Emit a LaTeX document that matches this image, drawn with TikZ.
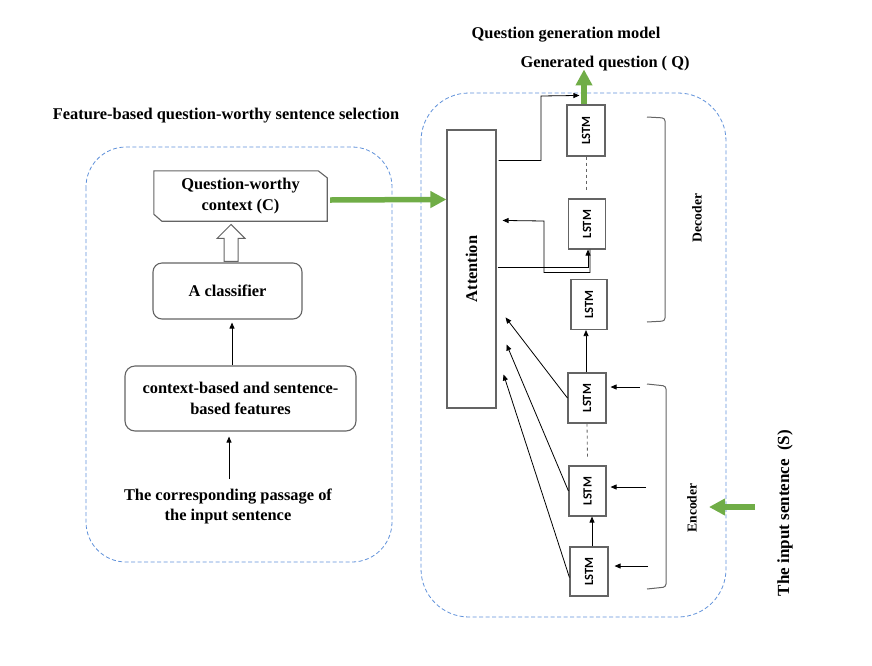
\documentclass[tikz,border=0pt]{standalone}
\usepackage{fontspec}
\setmainfont{Liberation Serif}
\newfontfamily\lstmfont{Carlito}[UprightFont=* Bold, BoldFont=* Bold]
\usetikzlibrary{arrows.meta,calc}
\definecolor{qgreen}{RGB}{112,173,71}
\definecolor{dblue}{RGB}{95,145,218}
\definecolor{bgray}{RGB}{100,100,100}
\newcommand\lstmtxt{\rotatebox{90}{\lstmfont\fontsize{12.5}{12.5}\selectfont LSTM}}
\begin{document}
\begin{tikzpicture}[x=1pt,y=-1pt,
  txt/.style={font=\fontsize{16.4}{21.7}\selectfont\bfseries, align=center, inner sep=0pt},
  lbl/.style={font=\fontsize{13.6}{14}\selectfont\bfseries, inner sep=0pt, rotate=90},
  lstm/.style={draw=bgray, line width=1.1pt, minimum width=37pt, minimum height=50pt, inner sep=0pt},
  rbox/.style={txt, draw=bgray, line width=1.1pt, rounded corners=9pt},
  arr/.style={-{Triangle[length=6pt,width=5pt]}, line width=0.8pt, black},
  garrow/.style={qgreen, line width=5.5pt, -{Triangle[length=16pt,width=16pt]}},
  grp/.style={dblue, line width=0.8pt, dash pattern=on 4pt off 2.5pt},
  brk/.style={bgray, line width=1pt, rounded corners=3pt}]
\useasboundingbox (0,0) rectangle (872,665);

% group frames
\draw[grp, rounded corners=40pt] (86,147) rectangle (392,562);
\draw[grp, rounded corners=48pt] (421,93) rectangle (726,617);

% titles
\node[txt] (title) at (566,35) {Question generation model};
\node[txt] (genq) at (605,64) {Generated question ( Q)};
\node[txt] (fbt) at (226,116) {Feature-based question-worthy sentence selection};

% left pipeline
\node[txt, minimum width=173pt, minimum height=50pt] (qwc) at (240.5,196) {Question-worthy\\context (C)};
\draw[bgray, line width=1.1pt] (qwc.north west) -- ($(qwc.north east)+(-9,0)$) -- ($(qwc.north east)+(0,7)$)
  -- (qwc.south east) -- ($(qwc.south west)+(8,0)$) -- ($(qwc.south west)+(0,-7)$) -- cycle;
\node[rbox, minimum width=149pt, minimum height=56pt] (cls) at (227.5,291) {A classifier};
\node[rbox, rounded corners=10pt, minimum width=231pt, minimum height=65pt] (feat) at (240.5,398.5) {context-based and sentence-\\based features};
\node[txt, font=\fontsize{16.4}{19.5}\selectfont\bfseries] (pas) at (228,506.5) {The corresponding passage of\\the input sentence};

\draw[bgray, line width=1pt, fill=white] ($(cls.north)+(-3.5,-1)$) -- ++(0,-23) -- ++(-7,0) -- ++(14,-14) -- ++(14,14) -- ++(-7,0) -- ++(0,23) -- cycle;
\draw[arr] ([xshift=-8.5pt]feat.north) -- ([xshift=4.5pt,yshift=-3pt]cls.south);
\coordinate (pastop) at (229,479);
\draw[arr] (pastop) -- ([xshift=-11.5pt,yshift=-5pt]feat.south);

% attention
\node[draw=bgray, line width=1.1pt, minimum width=49pt, minimum height=278pt, inner sep=0pt,
  font=\fontsize{16.4}{16.4}\selectfont\bfseries] (att) at (471.5,269) {\rotatebox{90}{Attention}};

% LSTMs
\node[lstm, minimum width=38pt, minimum height=51pt] (d1) at (586,130.5) {\lstmtxt};
\node[lstm] (d2) at (587,224) {\lstmtxt};
\node[lstm, minimum width=36pt] (d3) at (589,304.5) {\lstmtxt};
\node[lstm, minimum width=38pt] (e1) at (587,398) {\lstmtxt};
\node[lstm] (e2) at (587.5,491) {\lstmtxt};
\node[lstm, minimum width=38pt, minimum height=49pt] (e3) at (589,571.5) {\lstmtxt};

% green arrows
\draw[garrow] ([xshift=3pt,yshift=-4pt]qwc.east) -- ([yshift=-70pt]att.north west);
\draw[garrow] ([xshift=-2pt]d1.north) -- ([xshift=-2pt,yshift=35pt]d1.north);
\coordinate (sin) at (755,507);
\coordinate (sinTip) at (709,507);
\draw[garrow] (sin) -- (sinTip);

% dashed links
\draw[bgray, line width=0.8pt, dashed] (d1.south) -- ($(d2.north)+(-1,-7)$);
\draw[bgray, line width=0.8pt, dashed] (e1.south) -- ($(e2.north)+(0,-7)$);

% chain arrows
\draw[arr] ([xshift=-1pt]e1.north) -- ([xshift=-3pt]d3.south);
\draw[arr] ([xshift=3pt]e3.north) -- ([xshift=4.5pt]e2.south);

% attention feedback
\draw[arr] ($(att.north east)+(2,31)$) -| (541,96) -- ($(d1.north west)+(13,-9)$);
\draw[arr] ($(att.north east)+(1,138)$) -| ([xshift=1pt]d2.south);
\draw[arr] ([xshift=3pt]d2.south) -- ++(0,23) -| (544,221) -- ($(att.north east)+(6,91)$);

% encoder to attention
\draw[arr] (e1.west) -- ($(att.north east)+(9,188)$);
\draw[arr] (e2.west) -- ($(att.north east)+(10,215)$);
\draw[arr] ($(e3.west)+(0,6)$) -- ($(att.north east)+(7,245)$);

% inputs to encoder
\coordinate (in1) at (640,387);
\coordinate (in2) at (646,487);
\coordinate (in3) at (648,566);
\draw[arr] (in1) -- ($(e1.east)+(4,-11)$);
\draw[arr] (in2) -- ($(e2.east)+(4,-4)$);
\draw[arr] (in3) -- ($(e3.east)+(6,-5.5)$);

% brackets
\draw[brk] (647,117) -- (665,118) -- (665,321) -- (647,322);
\draw[brk] (647,384) -- (666,386) -- (666,587) -- (647,589);
\node[lbl] (dec) at (697,218) {Decoder};
\node[lbl] (enc) at (692,508) {Encoder};
\node[font=\fontsize{17}{17}\selectfont\bfseries, inner sep=0pt, rotate=90] (ins) at (785,513) {The input sentence~ (S)};
\end{tikzpicture}
\end{document}
